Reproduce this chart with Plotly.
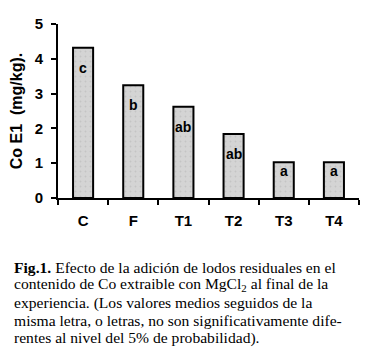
import plotly.graph_objects as go

categories = ["C", "F", "T1", "T2", "T3", "T4"]
values = [4.32, 3.24, 2.62, 1.84, 1.03, 1.03]
letters = ["c", "b", "ab", "ab", "a", "a"]
y_title = "Co E1  (mg/kg)."
caption_lines = [
    "<b>Fig.1.</b> Efecto de la adición de lodos residuales en el",
    "contenido de Co extraible con MgCl<sub>2</sub> al final de la",
    "experiencia. (Los valores medios seguidos de la",
    "misma letra, o letras, no son significativamente dife-",
    "rentes al nivel del 5% de probabilidad).",
]

fig = go.Figure()
fig.add_trace(go.Bar(
    x=categories, y=values, width=0.4,
    marker=dict(color="#d4d4d4", line=dict(color="black", width=2),
                pattern=dict(shape=".", fgcolor="#b4b4b4", bgcolor="#d4d4d4", size=5, solidity=0.12)),
    hoverinfo="skip",
))

for c, v, t in zip(categories, values, letters):
    fig.add_annotation(x=c, y=v, text=f"<b>{t}</b>", showarrow=False,
                       yanchor="middle", yshift=-20 if v > 1.5 else -9,
                       font=dict(family="Liberation Sans, Arial", size=14, color="black"))

line_h = 17.8
for i, line in enumerate(caption_lines):
    fig.add_annotation(xref="paper", yref="paper", x=-46/301, y=0, yshift=-(69 + i * line_h),
                       xanchor="left", yanchor="middle", align="left",
                       text=line, showarrow=False,
                       font=dict(family="Liberation Serif, Times New Roman", size=15.6, color="black"))

fig.update_layout(
    width=378, height=356,
    margin=dict(l=58, r=19, t=24, b=158),
    paper_bgcolor="white", plot_bgcolor="white",
    showlegend=False,
    font=dict(family="Liberation Sans, Arial", color="black"),
    xaxis=dict(range=[-0.5, 5.5], showline=True, linecolor="black", linewidth=2,
               ticks="outside", tickson="boundaries", ticklen=5, tickwidth=2, tickcolor="black",
               ticklabelstandoff=8,
               tickfont=dict(size=15, family="Liberation Sans, Arial", weight="bold"),
               showgrid=False, zeroline=False),
    yaxis=dict(range=[0, 5], dtick=1, showline=True, linecolor="black", linewidth=2,
               ticks="outside", ticklen=5, tickwidth=2, tickcolor="black",
               ticklabelstandoff=5,
               tickfont=dict(size=15, family="Liberation Sans, Arial", weight="bold"),
               showgrid=False, zeroline=False,
               title=dict(text=y_title, standoff=8,
                          font=dict(size=16, family="Liberation Sans, Arial", weight="bold"))),
)

fig.write_html("out.html")
